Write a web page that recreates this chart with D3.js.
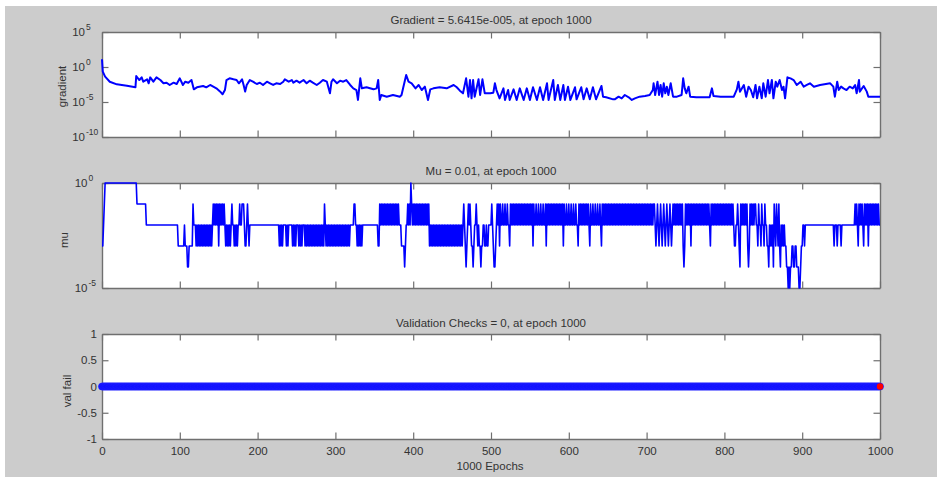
<!DOCTYPE html>
<html><head><meta charset="utf-8">
<script src="https://cdn.jsdelivr.net/npm/d3@7"></script>
<style>
html,body{margin:0;padding:0;background:#fff;}
svg{display:block;font-family:"Liberation Sans",Arial,sans-serif;}
</style></head><body>
<svg id="c" width="937" height="477"></svg>
<script>
// ---------------- DATA ----------------
const lastEpoch = 1000;
const epochTicks = [0,100,200,300,400,500,600,700,800,900,1000];
const gradTickExps = [5,0,-5,-10];
const muTickExps = [0,-5];
const valTicks = [-1,-0.5,0,0.5,1];
const valTickLabels = ["-1","-0.5","0","0.5","1"];
const titles = ["Gradient = 5.6415e-005, at epoch 1000","Mu = 0.01, at epoch 1000","Validation Checks = 0, at epoch 1000"];
const yLabels = ["gradient","mu","val fail"];
const xLabel = "1000 Epochs";

// gradient: [epoch, log10(gradient)]
const gradPoints = [
[0,1.10],[1,-0.67],[4,-1.38],[10,-2.10],[19,-2.48],[32,-2.67],[43,-2.90],[44,-1.30],[48,-1.86],[51,-1.48],
[53,-2.10],[58,-1.76],[60,-2.33],[62,-1.48],[66,-2.10],[70,-1.48],[75,-1.86],[79,-2.33],[83,-2.24],[87,-2.57],
[92,-2.24],[96,-2.43],[100,-1.62],[104,-2.57],[107,-2.10],[111,-2.24],[115,-1.86],[118,-3.19],[122,-2.90],[130,-2.71],
[134,-2.90],[139,-2.57],[143,-2.81],[147,-3.05],[152,-3.52],[155,-3.90],[158,-3.29],[160,-1.86],[164,-1.62],[169,-1.76],
[173,-1.86],[176,-2.33],[180,-1.76],[182,-2.57],[184,-3.52],[186,-2.57],[190,-1.86],[194,-2.10],[199,-2.43],[203,-2.24],
[207,-2.57],[212,-2.10],[216,-2.33],[220,-2.57],[224,-2.33],[229,-2.43],[233,-2.10],[235,-1.76],[240,-2.10],[244,-1.86],
[246,-2.24],[250,-1.95],[254,-2.24],[259,-1.86],[263,-2.33],[267,-1.95],[271,-2.24],[276,-2.57],[280,-2.24],[284,-1.86],
[289,-2.10],[293,-3.76],[295,-2.10],[297,-1.76],[302,-2.33],[306,-1.95],[310,-2.10],[314,-1.86],[319,-2.57],[323,-3.05],
[327,-3.29],[329,-4.71],[332,-1.62],[334,-3.05],[340,-2.90],[349,-3.19],[353,-3.05],[355,-1.86],[357,-4.71],[359,-4.00],
[366,-4.24],[374,-4.00],[383,-4.24],[385,-4.00],[387,-3.05],[391,-1.14],[394,-2.10],[398,-2.33],[403,-3.05],[407,-2.57],
[411,-3.29],[415,-2.81],[419,-4.71],[422,-3.19],[426,-3.05],[434,-2.90],[443,-3.05],[452,-2.57],[456,-2.90],[460,-3.38],
[464,-3.76],[468,-1.62],[471,-4.24],[473,-1.86],[475,-4.48],[477,-1.86],[479,-4.24],[484,-1.76],[486,-4.00],[489,-1.76],
[492,-3.76],[499,-3.76],[503,-3.67],[505,-2.33],[507,-3.29],[511,-4.48],[516,-3.05],[518,-4.71],[522,-3.29],[524,-4.71],
[529,-3.19],[533,-4.71],[537,-3.05],[542,-4.71],[546,-3.05],[550,-4.71],[554,-2.90],[559,-4.71],[563,-2.90],[567,-4.71],
[572,-2.33],[574,-4.71],[580,-1.86],[582,-4.71],[586,-2.57],[589,-4.71],[593,-2.57],[595,-4.71],[599,-2.81],[602,-4.71],
[608,-2.90],[610,-4.62],[616,-2.90],[619,-4.62],[623,-3.05],[627,-4.62],[631,-2.90],[635,-4.62],[642,-2.71],[644,-4.24],
[648,-4.33],[657,-4.62],[659,-4.62],[664,-4.24],[668,-4.48],[672,-4.00],[677,-4.33],[681,-4.71],[685,-4.48],[691,-4.24],
[698,-4.14],[704,-4.00],[708,-3.29],[709,-2.33],[711,-4.00],[714,-2.10],[716,-4.00],[718,-2.57],[720,-4.24],[722,-2.33],
[724,-3.76],[726,-2.81],[728,-4.00],[731,-2.33],[734,-4.24],[739,-4.24],[745,-4.00],[747,-1.62],[749,-3.05],[751,-3.76],
[754,-2.81],[756,-4.24],[764,-4.33],[781,-4.33],[784,-3.05],[786,-4.14],[795,-4.24],[812,-4.24],[816,-3.19],[818,-2.10],
[820,-3.52],[825,-2.57],[828,-4.24],[831,-2.81],[834,-3.29],[837,-4.33],[840,-2.57],[842,-4.48],[845,-2.81],[848,-4.48],
[850,-2.33],[853,-4.24],[856,-1.86],[858,-3.76],[861,-1.86],[863,-4.48],[866,-2.10],[868,-2.81],[871,-1.86],[874,-3.29],
[876,-2.81],[878,-4.48],[881,-1.48],[885,-1.62],[889,-1.86],[893,-2.57],[898,-2.10],[902,-2.81],[906,-2.57],[910,-2.33],
[915,-2.81],[923,-2.57],[936,-2.33],[940,-2.81],[942,-4.24],[945,-2.10],[947,-3.29],[950,-2.81],[953,-3.05],[957,-3.29],
[961,-2.81],[965,-3.05],[968,-2.57],[970,-3.76],[973,-1.86],[974,-3.52],[979,-2.71],[983,-3.52],[985,-4.24],[990,-4.24],
[1000,-4.25]
];

// mu: run segments [startEpoch, pattern]; each digit d in the pattern is one epoch at mu = 10^-d,
// the pattern repeats until the next segment starts
const muSegments = [
[0,"3"],[2,"2"],[3,"1"],[4,"0"],[45,"1"],[57,"2"],[98,"3"],[106,"2"],[107,"3"],[110,"4"],[112,"3"],[117,"1"],[118,"2"],
[120,"23"],[143,"12"],[150,"3"],[151,"12"],[158,"23"],[166,"2"],[167,"1"],[168,"2"],[169,"23"],[176,"2"],[177,"1"],[178,"2"],
[180,"1"],[183,"2"],[184,"3"],[186,"2"],[187,"1"],[188,"2"],[189,"3"],[190,"2"],
[227,"23"],[234,"2"],[236,"23"],[241,"2"],[244,"23"],[250,"2"],[252,"23"],[258,"2"],[260,"23"],[286,"1"],[287,"23"],
[319,"2"],[324,"1"],[326,"2"],[327,"23"],[336,"2"],[355,"3"],[357,"12"],[383,"2"],[385,"3"],[389,"4"],[390,"3"],[391,"2"],
[393,"12"],[397,"0"],[398,"12"],[421,"3"],[422,"23"],
[464,"2"],[465,"1"],[466,"2"],[467,"3"],[468,"4"],[469,"3"],[470,"2"],[471,"1"],[472,"2"],[473,"1"],[474,"2"],[475,"3"],
[477,"4"],[478,"3"],[479,"2"],[481,"1"],[482,"2"],[483,"3"],[484,"2"],[485,"3"],[487,"4"],[488,"3"],[490,"2"],[492,"3"],
[494,"2"],[495,"3"],[497,"2"],[501,"1"],[502,"2"],[503,"3"],[504,"4"],[506,"3"],[507,"2"],
[508,"12"],[511,"3"],[512,"122"],[524,"3"],[525,"12"],[554,"3"],[555,"122"],[571,"3"],[572,"12"],[593,"3"],[594,"122"],
[612,"3"],[613,"12"],[627,"3"],[628,"122"],[642,"3"],[643,"12"],
[710,"1232"],[736,"12"],[747,"3"],[748,"4"],[749,"3"],[750,"12"],[757,"3"],[758,"12"],[782,"3"],[783,"12"],[813,"3"],
[815,"2"],[817,"12"],[819,"3"],[820,"4"],[821,"12"],[830,"3"],[831,"4"],[832,"3"],[833,"12"],[840,"1223"],[855,"3"],
[857,"4"],[858,"23"],[863,"4"],[864,"123"],[871,"3"],[872,"4"],[873,"23"],[878,"3"],[880,"4"],[882,"5"],[883,"4"],
[884,"5"],[885,"4"],[887,"3"],[889,"4"],[891,"3"],[893,"4"],[896,"5"],[898,"4"],[899,"3"],[901,"2"],[903,"3"],[904,"2"],
[941,"3"],[942,"2"],[945,"3"],[946,"2"],[950,"3"],[951,"2"],
[968,"12"],[972,"3"],[973,"12"],[979,"3"],[980,"12"],[985,"3"],[986,"12"],[1000,"2"]
];

// validation fails: [startEpoch, value] — value holds until the next segment
const valSegments = [[0,0]];

// ---------------- DRAW ----------------
function decodeMu(segs){
  const out=[];
  for(let s=0;s<segs.length;s++){
    const [st,pat]=segs[s];
    const en = s+1<segs.length ? segs[s+1][0]-1 : lastEpoch;
    for(let e=st;e<=en;e++) out.push([e, Math.pow(10, -(+pat[(e-st)%pat.length]))]);
  }
  return out;
}
function decodeVal(segs){
  const out=[];
  for(let s=0;s<segs.length;s++){
    const [st,v]=segs[s];
    const en = s+1<segs.length ? segs[s+1][0]-1 : lastEpoch;
    for(let e=st;e<=en;e++) out.push([e,v]);
  }
  return out;
}

const svg=d3.select("#c");
svg.append("rect").attr("x",5).attr("y",6).attr("width",932).attr("height",471).attr("fill","#cccccc");

const L=102,R=880;
const panels=[{top:32,bottom:137},{top:183,bottom:288},{top:334,bottom:439}];
const x=d3.scaleLinear().domain([0,lastEpoch]).range([L,R]);
const yG=d3.scaleLog().domain([1e-10,1e5]).range([panels[0].bottom,panels[0].top]);
const yM=d3.scaleLog().domain([1e-5,1]).range([panels[1].bottom,panels[1].top]);
const yV=d3.scaleLinear().domain([-1,1]).range([panels[2].bottom,panels[2].top]);

const axisCol="#6f6f6f", textCol="#333";
const TK=6.5;

function styleAxis(g){
  g.selectAll(".domain").attr("stroke",axisCol).attr("stroke-width",1.4);
  g.selectAll(".tick line").attr("stroke",axisCol).attr("stroke-width",1.2);
  g.selectAll("text").attr("fill",textCol).style("font-size","11.5px").style("font-family","'Liberation Sans',Arial,sans-serif");
}

function drawFrame(i,y,yTickVals,leftFmt,xLabels){
  const p=panels[i];
  svg.append("rect").attr("x",L).attr("y",p.top).attr("width",R-L).attr("height",p.bottom-p.top).attr("fill","#fff");
  svg.append("g").attr("transform",`translate(0,${p.bottom})`)
    .call(d3.axisBottom(x).tickValues(epochTicks).tickSizeInner(-TK).tickSizeOuter(0).tickPadding(8)
      .tickFormat(xLabels? d3.format("d") : ()=>""))
    .call(styleAxis);
  svg.append("g").attr("transform",`translate(0,${p.top})`)
    .call(d3.axisTop(x).tickValues(epochTicks).tickSizeInner(-TK).tickSizeOuter(0).tickFormat(()=>""))
    .call(styleAxis);
  svg.append("g").attr("transform",`translate(${L},0)`)
    .call(d3.axisLeft(y).tickValues(yTickVals).tickSizeInner(-TK).tickSizeOuter(0).tickPadding(5).tickFormat(leftFmt||(()=>"")))
    .call(styleAxis);
  svg.append("g").attr("transform",`translate(${R},0)`)
    .call(d3.axisRight(y).tickValues(yTickVals).tickSizeInner(-TK).tickSizeOuter(0).tickFormat(()=>""))
    .call(styleAxis);
}

function logLabels(y,exps,baseRight){
  exps.forEach(ex=>{
    const ty=y(Math.pow(10,ex));
    svg.append("text").attr("x",baseRight).attr("y",ty+4).attr("text-anchor","end")
      .attr("fill",textCol).style("font-size","11.5px").text("10");
    svg.append("text").attr("x",baseRight+1).attr("y",ty-2.5).attr("text-anchor","start")
      .attr("fill",textCol).style("font-size","8.5px").text(String(ex));
  });
}

// clip paths
panels.forEach((p,i)=>{
  svg.append("clipPath").attr("id","clip"+i).append("rect")
    .attr("x",L-1).attr("y",p.top-1).attr("width",R-L+2).attr("height",p.bottom-p.top+2);
});

// Panel 1: gradient
drawFrame(0,yG,gradTickExps.map(e=>Math.pow(10,e)));
logLabels(yG,gradTickExps,85);
svg.append("path").datum(gradPoints)
  .attr("clip-path","url(#clip0)")
  .attr("fill","none").attr("stroke","#0000ff").attr("stroke-width",2).attr("stroke-linejoin","round")
  .attr("d",d3.line().x(d=>x(d[0])).y(d=>yG(Math.pow(10,d[1]))));

// Panel 2: mu
drawFrame(1,yM,muTickExps.map(e=>Math.pow(10,e)));
logLabels(yM,muTickExps,87.5);
const muData=decodeMu(muSegments);
svg.append("path").datum(muData)
  .attr("clip-path","url(#clip1)")
  .attr("fill","none").attr("stroke","#0000ff").attr("stroke-width",1.6).attr("stroke-linejoin","round")
  .attr("d",d3.line().x(d=>x(d[0])).y(d=>yM(d[1])));

// Panel 3: val fail
drawFrame(2,yV,valTicks,(d,i)=>valTickLabels[i],true);
const valData=decodeVal(valSegments);
svg.append("path").datum(valData)
  .attr("fill","none").attr("stroke","#0000ff").attr("stroke-width",1.5)
  .attr("d",d3.line().x(d=>x(d[0])).y(d=>yV(d[1])));
svg.append("g").selectAll("circle").data(valData).join("circle")
  .attr("cx",d=>x(d[0])).attr("cy",d=>yV(d[1])).attr("r",3.6)
  .attr("fill","#0000ff").attr("stroke","#2a2aff").attr("stroke-width",0.5);
const lastV=valData[valData.length-1];
svg.append("circle").attr("cx",x(lastV[0])).attr("cy",yV(lastV[1])).attr("r",3.2).attr("fill","#ff0000");

// titles
const titleY=[24,175,327];
titles.forEach((t,i)=>svg.append("text").attr("x",491).attr("y",titleY[i]).attr("text-anchor","middle")
  .attr("fill",textCol).style("font-size","11.5px").text(t));

// y labels
const ylX=[65.5,68,71], ylY=[86.5,240,391];
yLabels.forEach((t,i)=>svg.append("text").attr("transform",`translate(${ylX[i]},${ylY[i]}) rotate(-90)`)
  .attr("text-anchor","middle").attr("fill",textCol).style("font-size","11.5px").text(t));

// x label
svg.append("text").attr("x",490).attr("y",470).attr("text-anchor","middle")
  .attr("fill",textCol).style("font-size","11.5px").text(xLabel);
</script>
</body></html>
